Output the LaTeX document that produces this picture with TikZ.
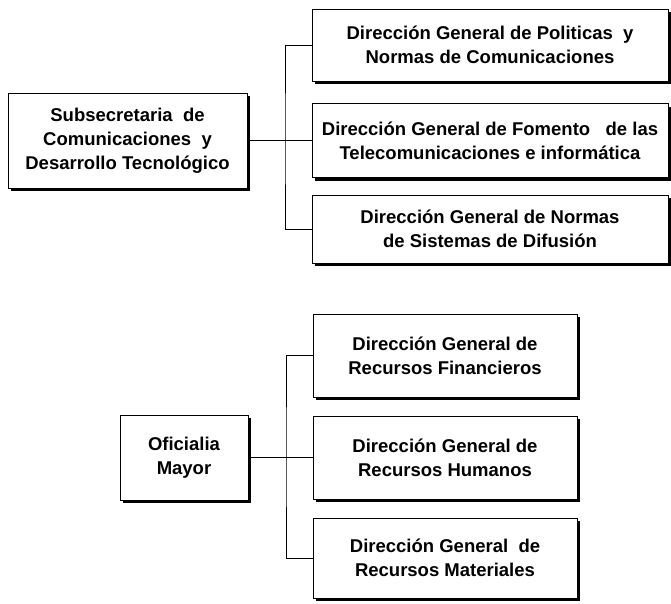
\documentclass[tikz,border=0pt]{standalone}
\usepackage{fontspec}
\setmainfont{Liberation Sans}
\usetikzlibrary{shadows}
\begin{document}
\begin{tikzpicture}[x=1pt,y=-1pt,
  orgbox/.style={draw=black,line width=0.8pt,fill=white,inner sep=0pt,
    align=center,font=\bfseries\fontsize{18.5}{24}\selectfont,
    drop shadow={shadow xshift=3pt,shadow yshift=-3pt,fill=black,opacity=1}},
  link/.style={draw=black,line width=0.8pt}]
\useasboundingbox (0,0) rectangle (671,603);
% top group
\node[orgbox,minimum width=239pt,minimum height=95pt] (sub) at (127.5,140.5)
  {Subsecretaria~ de\\Comunicaciones~ y\\Desarrollo Tecnológico};
\node[orgbox,minimum width=356pt,minimum height=72pt] (b1) at (490,45)
  {Dirección General de Politicas~ y\\Normas de Comunicaciones};
\node[orgbox,minimum width=356pt,minimum height=74pt] (b2) at (490,140.5)
  {Dirección General de Fomento~~ de las\\Telecomunicaciones e informática};
\node[orgbox,minimum width=356pt,minimum height=68pt] (b3) at (490,229)
  {Dirección General de Normas\\de Sistemas de Difusión};
\coordinate (j1) at (285,140.5);
\draw[link] (sub.east) -- (b2.west);
\draw[link] (b1.west) -| (j1) |- (b3.west);
% bottom group
\node[orgbox,minimum width=128pt,minimum height=85pt] (om) at (184,457.5)
  {Oficialia\\Mayor};
\node[orgbox,minimum width=264pt,minimum height=83pt] (c1) at (445,355.5)
  {Dirección General de\\Recursos Financieros};
\node[orgbox,minimum width=264pt,minimum height=83pt] (c2) at (445,457.5)
  {Dirección General de\\Recursos Humanos};
\node[orgbox,minimum width=264pt,minimum height=80pt] (c3) at (445,558)
  {Dirección General~ de\\Recursos Materiales};
\coordinate (j2) at (286,457.5);
\draw[link] (om.east) -- (c2.west);
\draw[link] (c1.west) -| (j2) |- (c3.west);
\end{tikzpicture}
\end{document}
